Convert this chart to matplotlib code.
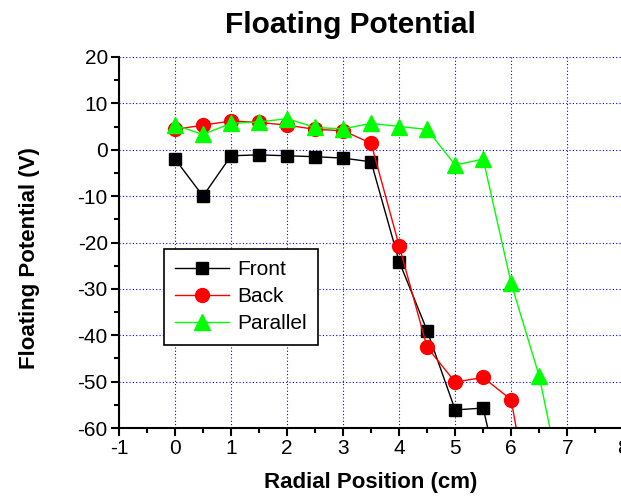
import numpy as np
import matplotlib
matplotlib.use("Agg")
import matplotlib.pyplot as plt
from matplotlib.ticker import MultipleLocator

plt.rcParams["font.family"] = ["Liberation Sans", "DejaVu Sans"]
plt.rcParams["axes.unicode_minus"] = False

# Radial positions (cm)
x = [0, 0.5, 1, 1.5, 2, 2.5, 3, 3.5, 4, 4.5, 5, 5.5, 6, 6.5, 7]

# Floating potential (V); last points run off the bottom of the axes
front = [-2.0, -10.0, -1.3, -1.1, -1.3, -1.5, -1.8, -2.6, -24.1, -39.0, -56.1, -55.7, -82.0]
back = [4.4, 5.3, 6.2, 5.9, 5.3, 4.4, 4.1, 1.4, -20.7, -42.6, -50.1, -49.1, -53.9, -88.0]
parallel = [5.3, 3.3, 5.7, 6.0, 6.7, 4.8, 4.5, 5.7, 5.0, 4.4, -3.3, -2.0, -28.8, -48.8, -78.0]

fig = plt.figure(figsize=(6.21, 5.0), dpi=100)
ax = fig.add_axes([0.1916, 0.144, 0.812, 0.742])

ax.plot(x[:len(front)], front, color="black", lw=1, marker="s", ms=9,
        label="Front")
ax.plot(x[:len(back)], back, color="red", lw=1, marker="o", ms=10,
        label="Back")
ax.plot(x[:len(parallel)], parallel, color="#00ff00", lw=1, marker="^", ms=11,
        label="Parallel")

ax.set_xlim(-1, 8)
ax.set_ylim(-60, 20)
ax.xaxis.set_major_locator(MultipleLocator(1))
ax.xaxis.set_minor_locator(MultipleLocator(0.5))
ax.yaxis.set_major_locator(MultipleLocator(10))
ax.yaxis.set_minor_locator(MultipleLocator(5))
ax.grid(True, which="major", color="blue", linestyle=(0, (1, 2)), lw=0.8)

for side in ["top", "right"]:
    ax.spines[side].set_visible(False)
for side in ["left", "bottom"]:
    ax.spines[side].set_linewidth(1.5)
ax.tick_params(which="major", direction="out", length=6, width=1.5,
               labelsize=15, pad=2)
ax.tick_params(which="minor", direction="out", length=3.5, width=1.5)

fig.text(0.565, 0.95, "Floating Potential", fontsize=21.5, fontweight="bold",
         ha="center", va="center")
ax.set_xlabel("Radial Position (cm)", fontsize=16, fontweight="bold",
              labelpad=10)
fig.text(0.047, 0.484, "Floating Potential (V)", fontsize=16,
         fontweight="bold", rotation=90, ha="center", va="center")

leg = ax.legend(loc="upper left", bbox_to_anchor=(0.089, 0.4825), fontsize=15,
                fancybox=False, framealpha=1, edgecolor="black",
                handlelength=2.6, handletextpad=0.35, borderpad=0.55,
                labelspacing=0.38, borderaxespad=0)
leg.get_frame().set_linewidth(1.2)

fig.savefig("out.png", dpi=100)
